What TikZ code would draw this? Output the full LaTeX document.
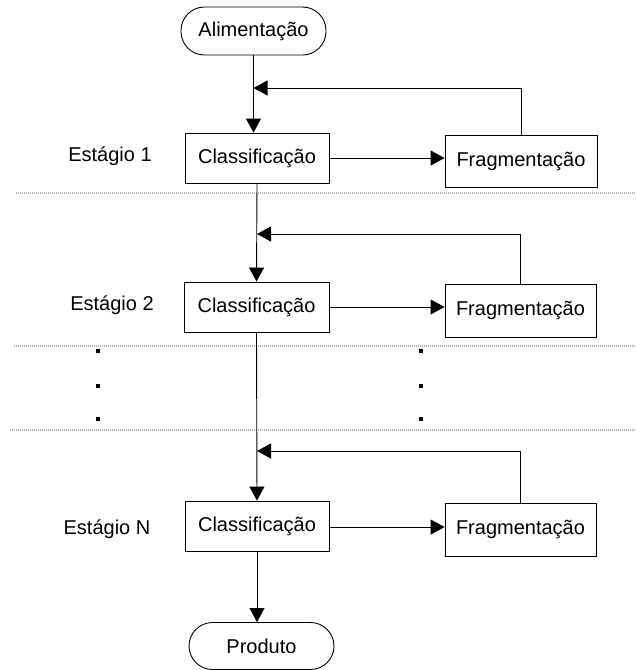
\documentclass[tikz,border=0pt]{standalone}
\usepackage{fontspec}
\setmainfont{Liberation Sans}
\usetikzlibrary{arrows.meta}
\begin{document}
\begin{tikzpicture}[x=1pt,y=-1pt,
  every node/.style={font=\fontsize{20}{24}\selectfont},
  procbox/.style={draw, line width=0.9pt, inner sep=0pt},
  termbox/.style={draw, line width=0.9pt, inner sep=0pt, rounded corners=23.5pt, minimum width=145pt},
  flow/.style={line width=0.9pt, -{Triangle[length=14pt,width=15pt]}},
  sep/.style={draw=gray!60, line width=1.3pt, dash pattern=on 1pt off 1pt},
  lbl/.style={inner sep=0pt},
  dotmark/.style={fill=black, minimum size=4pt, inner sep=0pt}
]
\useasboundingbox (0,0) rectangle (636,670);

% terminals
\node[termbox, minimum height=48pt] (alim) at (253.5,31) {Alimentação};
\node[termbox, minimum height=47pt] (prod) at (261.5,646) {Produto};

% stage 1
\node[procbox, minimum width=144pt, minimum height=50pt] (c1) at (257,158) {Classificação};
\node[procbox, minimum width=152pt, minimum height=52pt] (f1) at (521,161) {Fragmentação};
\node[lbl] (s1) at (110,156) {Estágio 1};
% stage 2
\node[procbox, minimum width=145pt, minimum height=50pt] (c2) at (256.5,307) {Classificação};
\node[procbox, minimum width=151pt, minimum height=53pt] (f2) at (520.5,310.5) {Fragmentação};
\node[lbl] (s2) at (112,305) {Estágio 2};
% stage N
\node[procbox, minimum width=144pt, minimum height=50pt] (cn) at (257,526) {Classificação};
\node[procbox, minimum width=151pt, minimum height=53pt] (fn) at (520.5,529.5) {Fragmentação};
\node[lbl] (sn) at (107,529) {Estágio N};

% separators
\draw[sep] (16,193) -- (636,193);
\draw[sep] (14,346) -- (636,346);
\draw[sep] (10,430) -- (636,430);

% dots
\foreach \yy [count=\i] in {351,386,419} {
  \node[dotmark] (dl\i) at (98,\yy) {};
  \node[dotmark] (dr\i) at (421,\yy) {};
}

% junction coordinates
\coordinate (j1) at (253.5,88);
\coordinate (j2) at (257,234);
\coordinate (jn) at (257,451);

% main flow
\draw[flow] (alim.south) -- (alim.south |- c1.north);
\draw[flow] (c1.south) -- (c2.north);
\draw[flow] (c2.south) -- (cn.north);
\draw[flow] (cn.south) -- (cn.south |- prod.north);

% to fragmentation
\draw[flow] (c1.east |- 0,158) -- (f1.west |- 0,158);
\draw[flow] (c2.east |- 0,307) -- (f2.west |- 0,307);
\draw[flow] (cn.east |- 0,527) -- (fn.west |- 0,527);

% feedback
\draw[flow] (f1.north) |- (j1);
\draw[flow] (f2.north) |- (j2);
\draw[flow] (fn.north) |- (jn);
\end{tikzpicture}
\end{document}
